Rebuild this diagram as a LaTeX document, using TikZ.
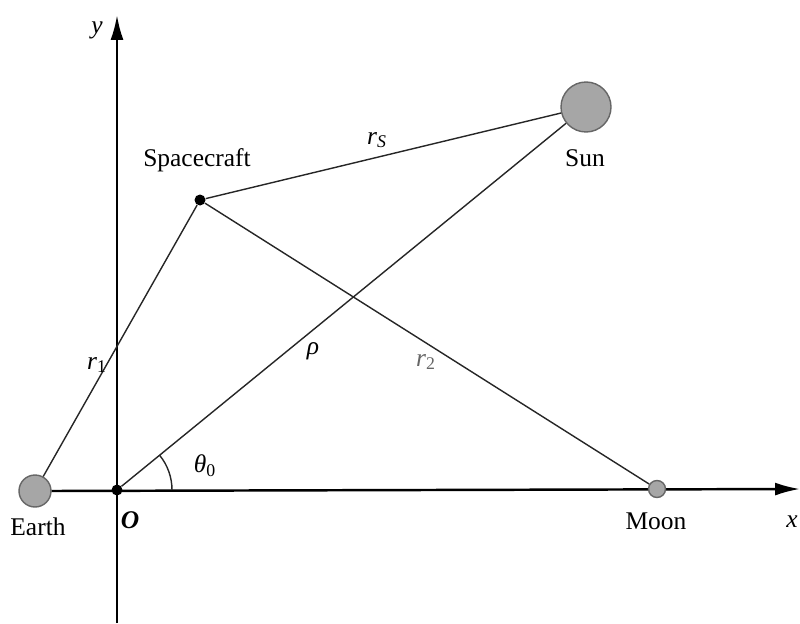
\documentclass[tikz,border=0pt]{standalone}
\usepackage{fontspec}
\setmainfont{Liberation Serif}
\usetikzlibrary{arrows.meta,positioning,calc}
\tikzset{
  axis/.style={-{Latex[length=5mm,width=2.6mm]}, line width=1.4pt, black},
  link/.style={line width=0.8pt, black!85},
  body/.style={circle, draw=black!60, fill=gray!70, line width=0.8pt, inner sep=0pt},
  dot/.style={circle, fill=black, inner sep=0pt, minimum size=2.2mm},
  note/.style={font=\fontsize{14.5}{17}\selectfont, inner sep=1pt}
}
\newcommand{\sym}[2]{\textit{#1}\textsubscript{#2}}
\begin{document}
\begin{tikzpicture}[x=0.02cm,y=0.02cm]
  \useasboundingbox (0,0) rectangle (800,623);
  \coordinate (ybot) at (117,0);
  \coordinate (ytop) at (117,608);
  \coordinate (xtip) at (800,134);
  % bodies
  \node[body, minimum size=6.4mm] (earth) at (35,132) {};
  \node[body, minimum size=10mm] (sun) at (586,516) {};
  \node[dot] (craft) at (200,423) {};
  \node[dot] (O) at (117,133) {};
  % axes
  \draw[axis] (ybot) -- (ytop);
  \draw[axis] (earth.east) -- (xtip);
  \node[body, minimum size=3.4mm] (moon) at (657,134) {};
  % distances
  \draw[link] (earth) -- (craft);
  \draw[link] (craft) -- (sun);
  \draw[link] (craft) -- (moon);
  \draw[link] (O) -- (sun);
  \draw[link] ($(O)+(55,0)$) arc[start angle=0, end angle=39.2, radius=55];
  % labels
  \node[note] at (97,593) {\textit{y}};
  \node[note] at (792,101) {\textit{x}};
  \node[note] at (197,463) {Spacecraft};
  \node[note] at (585,465) {Sun};
  \node[note] at (38,96) {Earth};
  \node[note] at (656,102) {Moon};
  \node[note] at (130,103) {\textbf{\textit{O}}};
  \node[note] at (377,483) {\sym{r}{\textit{S}}};
  \node[note] at (97,258) {\sym{r}{1}};
  \node[note] at (313,272) {\textit{ρ}};
  \node[note, text=black!60] at (426,261) {\sym{r}{2}};
  \node[note] at (205,157) {\sym{θ}{0}};
\end{tikzpicture}
\end{document}
